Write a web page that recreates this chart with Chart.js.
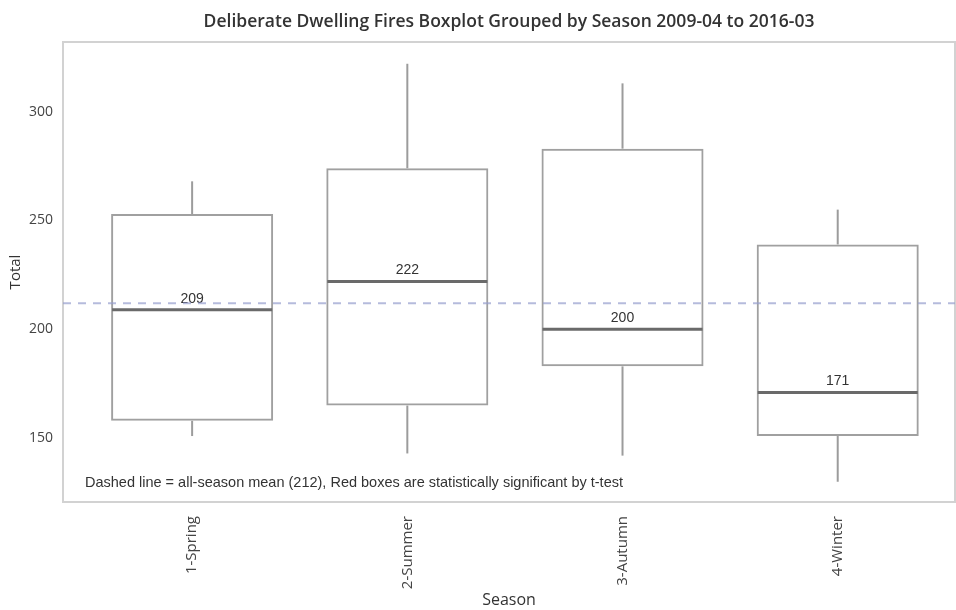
<!DOCTYPE html>
<html>
<head>
<meta charset="utf-8">
<script src="https://cdn.jsdelivr.net/npm/chart.js@4.4.1/dist/chart.umd.min.js"></script>
<style>
  html, body { margin: 0; padding: 0; background: #fff; }
  #wrap { width: 956px; height: 610px; }
</style>
</head>
<body>
<div id="wrap"><canvas id="c" width="956" height="610"></canvas></div>
<script>
// Deliberate dwelling fires per month, summarised by season
const seasons     = ['1-Spring', '2-Summer', '3-Autumn', '4-Winter'];
const whiskerLow  = [151, 143, 142, 130];
const q1          = [158, 165, 183, 151];
const median      = [209, 222, 200, 171];
const q3          = [253, 274, 283, 239];
const whiskerHigh = [268, 322, 313, 255];
const allMean     = 212;
const yTicks      = [150, 200, 250, 300];

const titleText = 'Deliberate Dwelling Fires Boxplot Grouped by Season 2009-04 to 2016-03';
const noteText  = 'Dashed line = all-season mean (212), Red boxes are statistically significant by t-test';

function seg(ctx, x1, y1, x2, y2) {
  ctx.beginPath();
  ctx.moveTo(x1, y1);
  ctx.lineTo(x2, y2);
  ctx.stroke();
}

// Whiskers, medians, median labels, mean line, frame and title
const boxDecor = {
  id: 'boxDecor',
  beforeDatasetsDraw(chart) {
    const { ctx, chartArea: a } = chart;
    ctx.save();
    ctx.strokeStyle = '#d2d2d2';
    ctx.lineWidth = 2;
    ctx.strokeRect(a.left, a.top, a.right - a.left, a.bottom - a.top);
    ctx.fillStyle = '#333';
    ctx.font = '600 17.5px "Open Sans"';
    ctx.textAlign = 'center';
    ctx.textBaseline = 'middle';
    ctx.fillText(titleText, (a.left + a.right) / 2, 22);
    ctx.restore();
  },
  afterDatasetsDraw(chart) {
    const { ctx, chartArea: a, scales: { y } } = chart;
    const bars = chart.getDatasetMeta(0).data;
    ctx.save();
    bars.forEach((bar, i) => {
      const x = bar.x;
      const half = bar.width / 2;
      ctx.strokeStyle = '#9c9c9c';
      ctx.lineWidth = 2;
      seg(ctx, x, y.getPixelForValue(q3[i]), x, y.getPixelForValue(whiskerHigh[i]));
      seg(ctx, x, y.getPixelForValue(q1[i]), x, y.getPixelForValue(whiskerLow[i]));
      const ym = y.getPixelForValue(median[i]);
      ctx.strokeStyle = '#6a6a6a';
      ctx.lineWidth = 3;
      seg(ctx, x - half + 1, ym, x + half - 1, ym);
      ctx.fillStyle = '#333';
      ctx.font = '14px "Liberation Sans"';
      ctx.textAlign = 'center';
      ctx.textBaseline = 'bottom';
      ctx.fillText(String(median[i]), x, ym - 4);
    });
    // all-season mean
    const yMean = y.getPixelForValue(allMean);
    ctx.strokeStyle = 'rgba(150,158,205,0.7)';
    ctx.lineWidth = 2;
    ctx.setLineDash([8, 7]);
    seg(ctx, a.left, yMean, a.right, yMean);
    ctx.setLineDash([]);
    // footnote
    ctx.fillStyle = '#333';
    ctx.font = '14.5px "Liberation Sans"';
    ctx.textAlign = 'left';
    ctx.textBaseline = 'middle';
    ctx.fillText(noteText, a.left + 22, 483);
    ctx.restore();
  }
};

new Chart(document.getElementById('c'), {
  type: 'bar',
  data: {
    datasets: [{
      label: 'Interquartile range',
      data: seasons.map((s, i) => ({ x: i, y: [q1[i], q3[i]] })),
      backgroundColor: 'rgba(255,255,255,0)',
      borderColor: '#a0a0a0',
      borderWidth: 2,
      borderSkipped: false,
      categoryPercentage: 1,
      barPercentage: 0.753
    }]
  },
  options: {
    responsive: false,
    animation: false,
    devicePixelRatio: 1,
    layout: { padding: { top: 42, right: 1, left: 0, bottom: 0 } },
    plugins: {
      legend: { display: false },
      tooltip: { enabled: false }
    },
    scales: {
      x: {
        type: 'linear',
        offset: false,
        min: -0.6,
        max: 3.545,
        afterBuildTicks: s => { s.ticks = seasons.map((_, i) => ({ value: i })); },
        ticks: {
          callback: v => seasons[v] ?? '',
          minRotation: 90,
          maxRotation: 90,
          autoSkip: false,
          font: { family: 'Open Sans', size: 15 },
          color: '#444',
          padding: 14
        },
        grid: { display: false, drawTicks: false },
        border: { display: false },
        title: {
          display: true,
          text: 'Season',
          font: { family: 'Open Sans', size: 16 },
          color: '#333',
          padding: { top: 0, bottom: 0 }
        },
        afterFit: s => { s.height = 108; }
      },
      y: {
        min: 120.7,
        max: 332,
        afterBuildTicks: s => { s.ticks = yTicks.map(v => ({ value: v })); },
        ticks: {
          font: { family: 'Open Sans', size: 14 },
          color: '#444',
          padding: 10
        },
        grid: { display: false, drawTicks: false },
        border: { display: false },
        title: {
          display: true,
          text: 'Total',
          font: { family: 'Open Sans', size: 15 },
          color: '#333',
          padding: { top: 7, bottom: 0 }
        },
        afterFit: s => { s.width = 63; }
      }
    }
  },
  plugins: [boxDecor]
});
</script>
</body>
</html>
